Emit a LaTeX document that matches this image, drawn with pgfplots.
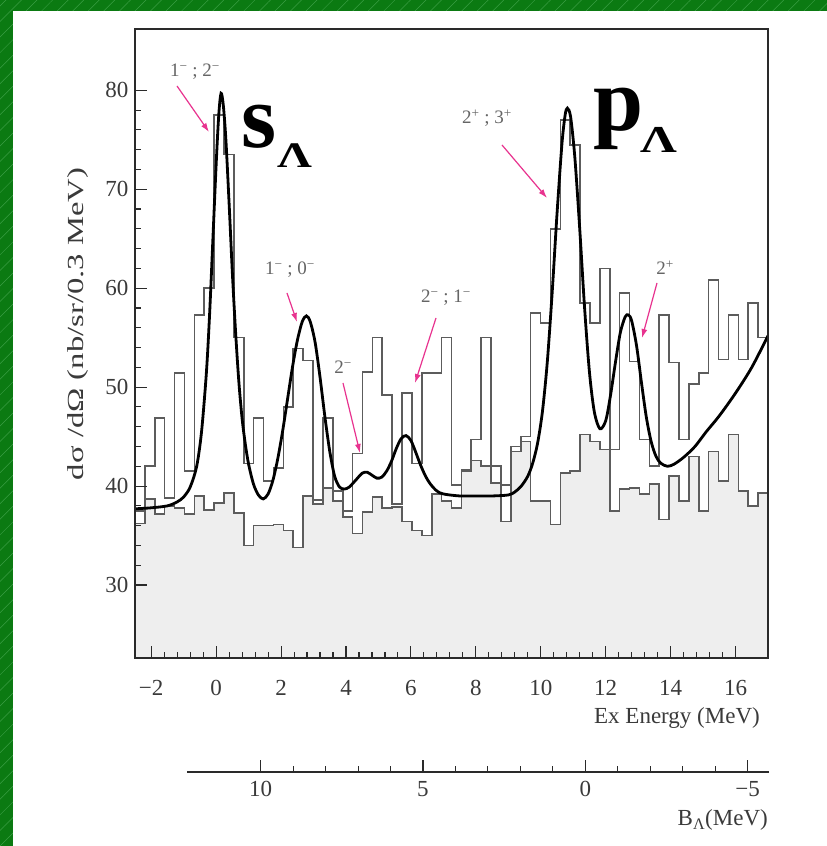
\documentclass[border=0pt]{standalone}
\usepackage{fontspec}
\setmainfont{Liberation Serif}
\usepackage{pgfplots}
\pgfplotsset{compat=1.18}
\usepackage{pgfplotstable}
\usetikzlibrary{patterns.meta, arrows.meta}

\definecolor{bggreen}{HTML}{0B7A12}
\definecolor{hatch}{HTML}{3A9E44}
\definecolor{fillgray}{HTML}{EEEEEE}
\definecolor{histgray}{HTML}{5C5C5C}
\definecolor{axgray}{HTML}{2A2A2A}
\definecolor{txtgray}{HTML}{3A3A3A}
\definecolor{lblgray}{HTML}{656565}
\definecolor{arrowpink}{HTML}{E8338F}

\pgfplotstableread{
x U L
-2.5000 37.5 36.2
-2.1953 42.0 38.7
-1.8906 46.9 37.2
-1.5859 38.8 38.0
-1.2813 51.4 37.8
-0.9766 41.5 37.2
-0.6719 57.3 39.0
-0.3672 60.0 37.6
-0.0625 77.5 38.3
0.2422 73.5 39.3
0.5469 55.0 37.3
0.8516 42.3 34.0
1.1563 46.9 36.0
1.4609 40.5 36.0
1.7656 41.8 36.1
2.0703 48.0 35.5
2.3750 53.9 33.8
2.6797 52.7 39.0
2.9844 38.6 38.2
3.2891 46.9 39.8
3.5938 39.5 38.5
3.8984 37.5 36.9
4.2031 43.3 35.2
4.5078 51.5 37.4
4.8125 55.0 38.9
5.1172 49.2 37.8
5.4219 38.2 37.9
5.7266 49.4 36.4
6.0313 42.3 35.5
6.3359 51.4 35.0
6.6406 51.4 39.2
6.9453 55.0 38.5
7.2500 40.1 37.8
7.5547 41.6 41.5
7.8594 44.7 42.6
8.1641 55.0 42.0
8.4688 42.0 40.3
8.7734 40.1 36.4
9.0781 44.0 43.5
9.3828 45.0 44.5
9.6875 57.5 38.5
9.9922 56.5 38.5
10.2969 66.0 36.1
10.6016 77.0 41.3
10.9063 74.5 41.5
11.2109 58.5 45.2
11.5156 56.5 44.5
11.8203 62.0 43.7
12.1250 43.7 37.5
12.4297 59.5 39.7
12.7344 52.6 39.8
13.0391 44.7 39.2
13.3438 42.0 40.2
13.6484 57.3 36.6
13.9531 52.5 41.0
14.2578 44.7 38.5
14.5625 50.3 43.0
14.8672 51.4 37.5
15.1719 60.8 43.5
15.4766 52.8 40.5
15.7813 57.3 45.2
16.0859 52.8 39.5
16.3906 58.5 38.0
16.6953 55.0 39.3
17.0000 55.0 39.3
}\hist

\pgfplotstableread{
x y
-2.5 37.7
-2.0 37.8
-1.5 38.0
-1.2 38.4
-1.0 38.9
-0.8 39.9
-0.6 42.0
-0.45 45.5
-0.3 51.5
-0.2 57.5
-0.1 65.0
0.0 72.5
0.08 77.5
0.15 79.7
0.22 78.5
0.3 75.0
0.4 68.5
0.5 61.5
0.6 55.5
0.7 50.5
0.8 46.8
0.9 44.2
1.0 42.2
1.15 40.2
1.3 39.1
1.45 38.7
1.6 39.2
1.75 40.6
1.9 42.8
2.05 45.6
2.2 48.8
2.35 52.0
2.5 54.7
2.65 56.6
2.78 57.2
2.9 56.6
3.05 54.5
3.2 51.0
3.35 47.0
3.5 43.5
3.65 41.0
3.8 39.9
3.95 39.7
4.1 39.9
4.3 40.6
4.5 41.3
4.65 41.4
4.8 41.1
4.95 40.8
5.1 40.9
5.25 41.5
5.4 42.5
5.55 43.8
5.7 44.8
5.85 45.1
6.0 44.6
6.15 43.4
6.3 42.1
6.45 41.0
6.6 40.2
6.8 39.5
7.0 39.2
7.5 39.0
8.0 39.0
8.5 39.0
9.0 39.1
9.2 39.4
9.4 40.0
9.6 41.0
9.75 42.3
9.9 44.3
10.05 47.5
10.2 52.5
10.35 59.5
10.5 67.5
10.65 74.5
10.75 77.5
10.82 78.2
10.92 77.3
11.05 73.2
11.2 66.0
11.35 58.0
11.5 51.5
11.65 47.5
11.82 45.8
12.0 46.6
12.15 49.2
12.3 52.5
12.45 55.5
12.6 57.1
12.7 57.3
12.8 56.7
12.95 54.2
13.1 50.5
13.25 47.0
13.4 44.5
13.55 43.0
13.7 42.3
13.9 42.0
14.1 42.2
14.4 42.9
14.75 44.0
15.1 45.5
15.5 47.1
16.0 49.4
16.5 52.0
17.0 55.2
}\fitcurve

\begin{document}
\begin{tikzpicture}[x=1pt,y=1pt]
\path[use as bounding box] (0,0) rectangle (827,846);
\fill[bggreen] (0,0) rectangle (827,846);
\fill[pattern={Lines[angle=45,distance=11pt,line width=0.5pt]}, pattern color=hatch] (0,0) rectangle (827,846);
\fill[white] (13,0) rectangle (827,835);

\begin{axis}[
  at={(135pt,188pt)}, anchor=south west,
  width=633pt, height=629pt, scale only axis,
  xmin=-2.5, xmax=17, ymin=22.62, ymax=86.2,
  axis on top,
  axis line style={axgray, line width=1.4pt},
  every tick/.style={axgray, line width=1.1pt},
  xtick={-2,0,2,4,6,8,10,12,14,16},
  xticklabels={−2,0,2,4,6,8,10,12,14,16},
  ytick={30,40,50,60,70,80},
  yticklabels={30,40,50,60,70,80},
  minor x tick num=4, minor y tick num=4,
  xtick pos=left, ytick pos=left,
  tick align=inside,
  major tick length=12pt, minor tick length=6pt,
  ticklabel style={font=\fontsize{23}{23}\selectfont, text=txtgray},
  xticklabel style={yshift=-19pt},
  yticklabel style={xshift=-3pt},
]
\addplot[const plot, draw=none, fill=fillgray] table[x=x,y=L]{\hist} \closedcycle;
\addplot[const plot, histgray, line width=1.6pt] table[x=x,y=U]{\hist};
\addplot[const plot, histgray, line width=1.6pt] table[x=x,y=L]{\hist};
\addplot[black, line width=2.8pt, smooth] table[x=x,y=y]{\fitcurve};
\end{axis}

\begin{axis}[
  at={(187pt,74pt)}, anchor=south west,
  width=582pt, height=20pt, scale only axis,
  xmin=-5.66, xmax=12.27, x dir=reverse,
  ymin=0, ymax=1,
  axis x line*=bottom, axis y line=none,
  axis line style={-, axgray, line width=1.4pt},
  every tick/.style={axgray, line width=1.1pt},
  xtick={-5,0,5,10}, xticklabels={−5,0,5,10},
  minor x tick num=4,
  tick align=inside,
  major tick length=12pt, minor tick length=6pt,
  ticklabel style={font=\fontsize{23}{23}\selectfont, text=txtgray},
  xticklabel style={yshift=-6pt},
]
\addplot[draw=none] coordinates {(0,0.5)};
\end{axis}

% axis titles
\node[rotate=90, font=\fontsize{23}{23}\selectfont, text=txtgray] at (78,522) {\scalebox{1.42}[1]{dσ /dΩ (nb/sr/0.3 MeV)}};
\node[anchor=east, font=\fontsize{23}{23}\selectfont, text=txtgray, inner sep=0] at (760,128) {Ex Energy (MeV)};
\node[anchor=east, font=\fontsize{23}{23}\selectfont, text=txtgray, inner sep=0] at (768,26) {B\textsubscript{Λ}(MeV)};

% big labels
\node[anchor=base west, inner sep=0] at (241,698) {\fontsize{90}{90}\selectfont\bfseries s};
\node[anchor=base west, inner sep=0] at (277,678) {\scalebox{1.35}[1]{\fontsize{36}{36}\selectfont\bfseries Λ}};
\node[anchor=base west, inner sep=0] at (593,715) {\fontsize{90}{90}\selectfont\bfseries p};
\node[anchor=base west, inner sep=0] at (640,693) {\scalebox{1.35}[1]{\fontsize{38}{38}\selectfont\bfseries Λ}};

% state labels
\begin{scope}[every node/.style={font=\fontsize{19}{19}\selectfont, text=lblgray}]
\node at (195,774) {1\textsuperscript{−} ; 2\textsuperscript{−}};
\node at (290,576) {1\textsuperscript{−} ; 0\textsuperscript{−}};
\node at (343,479) {2\textsuperscript{−}};
\node at (446,548) {2\textsuperscript{−} ; 1\textsuperscript{−}};
\node at (487,728) {2\textsuperscript{+} ; 3\textsuperscript{+}};
\node at (665,578) {2\textsuperscript{+}};
\end{scope}

\begin{scope}[arrowpink, line width=1.2pt, -{Latex[length=9pt,width=6pt]}]
\draw (177,760) -- (209,714);
\draw (287,553) -- (297,524);
\draw (343,463) -- (360,393);
\draw (436,528) -- (415,463);
\draw (502,701) -- (547,648);
\draw (657,563) -- (642,508);
\end{scope}
\end{tikzpicture}
\end{document}
